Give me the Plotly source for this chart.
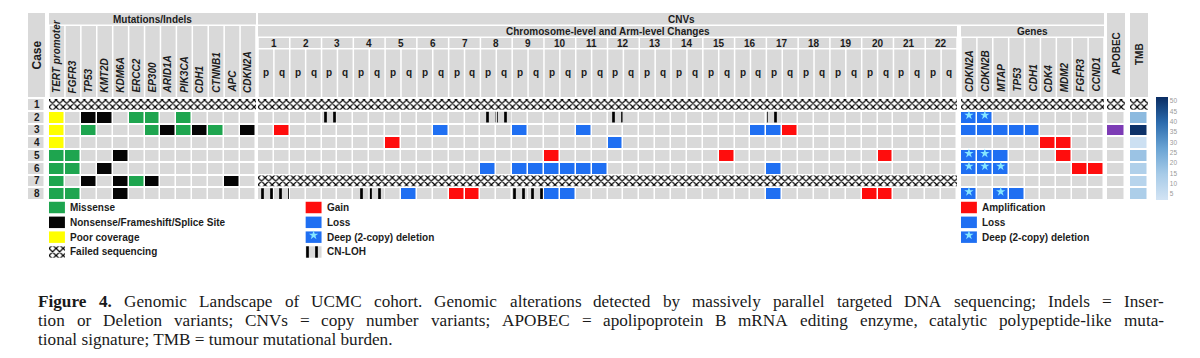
import plotly.graph_objects as go

W, H = 1200, 358

# ---------------- data ----------------
cases = [1, 2, 3, 4, 5, 6, 7, 8]
case_labels = ["1", "2", "3", "4", "5", "6", "7", "8"]

mut_genes = ["TERT promoter", "FGFR3", "TP53", "KMT2D", "KDM6A", "ERCC2", "EP300",
             "ARID1A", "PIK3CA", "CDH1", "CTNNB1", "APC", "CDKN2A"]
# M = missense, N = nonsense/frameshift/splice site, Y = poor coverage, F = failed, . = none
mut_calls = [
    "FFFFFFFFFFFFF",
    "Y.NN.MM.M....",
    "Y.M...MNMNM.N",
    "Y............",
    "MM..N........",
    "MM.N.........",
    "M.N.NMN....N.",
    "MM..N........",
]

chromosomes = [str(i) for i in range(1, 23)]
arm_names = ["p", "q"]
cnv_gain = [[], [], ["1q", "17q"], ["5p"], ["10p", "15q", "20q"], [], [],
            ["7p", "7q", "20p", "20q"]]
cnv_loss = [[], [], ["6q", "9p", "11p", "16q", "17p"], ["12p"], [],
            ["8p", "9p", "9q", "10p", "10q", "11p", "11q", "17p"], [],
            ["5q", "10p", "10q", "17p"]]
cnv_cnloh = [[], ["3p", "8p", "8q", "12p", "17p"], [], [], [], [], [],
             ["1p", "1q", "4p", "4q", "9p", "9q"]]
cnv_failed = [1, 7]

cn_genes = ["CDKN2A", "CDKN2B", "MTAP", "TP53", "CDH1", "CDK4", "MDM2", "FGFR3", "CCND1"]
# A = amplification, L = loss, D = deep (2-copy) deletion, F = failed
gene_calls = [
    "FFFFFFFFF",
    "DD.......",
    "LLLLL....",
    ".....AA..",
    "DDL...A..",
    "DDD....AA",
    ".........",
    "D.DL.....",
]

apobec_calls = ["F", ".", "+", ".", ".", ".", ".", "."]
tmb_values = [None, 20, 51, 4, 17, 12, 10, 13]
tmb_ticks = [5, 10, 15, 20, 25, 30, 35, 40, 45, 50]

mut_legend = ["Missense", "Nonsense/Frameshift/Splice Site", "Poor coverage", "Failed sequencing"]
cnv_legend = ["Gain", "Loss", "Deep (2-copy) deletion", "CN-LOH"]
gene_legend = ["Amplification", "Loss", "Deep (2-copy) deletion"]

caption_bold = "Figure 4."
caption_lines = [
    "Figure 4. Genomic Landscape of UCMC cohort. Genomic alterations detected by massively parallel targeted DNA sequencing; Indels = Inser-",
    "tion or Deletion variants; CNVs = copy number variants; APOBEC = apolipoprotein B mRNA editing enzyme, catalytic polypeptide-like muta-",
    "tional signature; TMB = tumour mutational burden.",
]

# ---------------- style ----------------
GREY = "#d9d9d9"
GREEN = "#1ea54f"
BLACK = "#050505"
YELLOW = "#ffff00"
RED = "#ff0d0d"
BLUE = "#1f6ff2"
PURPLE = "#7d3cb5"
STAR = "#86e6ff"
TXT = "#1c1c1c"
SANS = "Liberation Sans, Arial, sans-serif"
SERIF = "Liberation Serif, Times New Roman, serif"

OFF = 8            # page body margin of the rendered html
ROW_TOP, ROW_H = 98.0, 12.75


def yd(p):
    return 0.5 + (p - ROW_TOP) / ROW_H


def fx(p):
    return (p - OFF) / W


def fy(p):
    return 1 - (p - OFF) / H


sections = {
    "case": dict(x0=28, x1=45, n=1, ax="x"),
    "mut": dict(x0=49, x1=256, n=13, ax="x2"),
    "cnv": dict(x0=258, x1=957, n=44, ax="x3"),
    "gene": dict(x0=961, x1=1104, n=9, ax="x4"),
    "apo": dict(x0=1107, x1=1125, n=1, ax="x5"),
    "tmb": dict(x0=1130, x1=1148, n=1, ax="x6"),
}


def col_px(sec, c):
    s = sections[sec]
    pitch = (s["x1"] - s["x0"]) / s["n"]
    return s["x0"] + c * pitch, s["x0"] + (c + 1) * pitch


def discrete_scale(colors):
    k = len(colors)
    sc = []
    for i, c in enumerate(colors):
        sc.append([i / k, c])
        sc.append([(i + 1) / k, c])
    return sc


cnv_cols = [c + a for c in chromosomes for a in arm_names]

fig = go.Figure()
HM = dict(xgap=1.5, ygap=2, showscale=False, hoverinfo="skip", yaxis="y")

# ---- case column ----
fig.add_trace(go.Heatmap(z=[[0] for _ in cases], x=[0], y=cases, xaxis="x",
                         colorscale=[[0, GREY], [1, GREY]], zmin=0, zmax=1, **HM))

# ---- mutations ----
mcode = {".": 0, "M": 1, "N": 2, "Y": 3, "F": None}
z_mut = [[mcode[ch] for ch in row] for row in mut_calls]
fig.add_trace(go.Heatmap(z=z_mut, x=list(range(len(mut_genes))), y=cases, xaxis="x2",
                         colorscale=discrete_scale([GREY, GREEN, BLACK, YELLOW]),
                         zmin=-0.5, zmax=3.5, **HM))

# ---- CNV arms ----
z_cnv = []
for i, r in enumerate(cases):
    row = []
    for arm in cnv_cols:
        if r in cnv_failed:
            row.append(None)
        elif arm in cnv_gain[i]:
            row.append(1)
        elif arm in cnv_loss[i]:
            row.append(2)
        else:
            row.append(0)
    z_cnv.append(row)
fig.add_trace(go.Heatmap(z=z_cnv, x=list(range(len(cnv_cols))), y=cases, xaxis="x3",
                         colorscale=discrete_scale([GREY, RED, BLUE]),
                         zmin=-0.5, zmax=2.5, **HM))

# ---- CNV genes ----
gcode = {".": 0, "A": 1, "L": 2, "D": 2, "F": None}
z_gene = [[gcode[ch] for ch in row] for row in gene_calls]
fig.add_trace(go.Heatmap(z=z_gene, x=list(range(len(cn_genes))), y=cases, xaxis="x4",
                         colorscale=discrete_scale([GREY, RED, BLUE]),
                         zmin=-0.5, zmax=2.5, **HM))

# ---- APOBEC ----
acode = {".": 0, "+": 1, "F": None}
fig.add_trace(go.Heatmap(z=[[acode[a]] for a in apobec_calls], x=[0], y=cases, xaxis="x5",
                         colorscale=discrete_scale([GREY, PURPLE]), zmin=-0.5, zmax=1.5, **HM))

# ---- TMB ----
fig.add_trace(go.Heatmap(
    z=[[v] for v in tmb_values], x=[0], y=cases, xaxis="x6", yaxis="y",
    xgap=1.5, ygap=2, hoverinfo="skip", zmin=2, zmax=52,
    colorscale=[[0, "#d3e4f4"], [0.25, "#a7cbe8"], [0.5, "#6aa4d4"],
                [0.75, "#2c6cae"], [1, "#0a2d63"]],
    colorbar=dict(x=fx(1156), xanchor="left", y=fy(200), yanchor="bottom",
                  len=103 / H, lenmode="fraction", thickness=12, thicknessmode="pixels",
                  outlinewidth=0, tickvals=tmb_ticks, ticks="", xpad=0, ypad=0,
                  tickfont=dict(size=6.5, color="#9a9a9a", family=SANS)),
))

# ---------------- bars: failed sequencing (checker) and CN-LOH ----------------
CHECK = dict(shape="x", fgcolor="#000000", bgcolor="white", size=5, solidity=0.42,
             fgopacity=1)
BW = 0.84


def failed_bar(rows, sec):
    n = sections[sec]["n"]
    return go.Bar(orientation="h", y=rows, x=[n] * len(rows), base=[-0.5] * len(rows),
                  width=BW, marker=dict(color="white", line_width=0, pattern=CHECK),
                  xaxis=sections[sec]["ax"], yaxis="y", hoverinfo="skip", showlegend=False)


fig.add_trace(failed_bar([r for r, row in zip(cases, mut_calls) if row[0] == "F"], "mut"))
fig.add_trace(failed_bar(cnv_failed, "cnv"))
fig.add_trace(failed_bar([r for r, row in zip(cases, gene_calls) if row[0] == "F"], "gene"))
fig.add_trace(failed_bar([r for r, a in zip(cases, apobec_calls) if a == "F"], "apo"))
fig.add_trace(failed_bar([r for r, v in zip(cases, tmb_values) if v is None], "tmb"))

LOH = dict(shape="|", fgcolor="#000000", bgcolor=GREY, size=9, solidity=0.3, fgopacity=1)
loh_y, loh_base = [], []
for i, r in enumerate(cases):
    for arm in cnv_cnloh[i]:
        loh_y.append(r)
        loh_base.append(cnv_cols.index(arm) - 0.5 + 0.05)
fig.add_trace(go.Bar(orientation="h", y=loh_y, x=[0.9] * len(loh_y), base=loh_base, width=BW,
                     marker=dict(color=GREY, line_width=0, pattern=LOH),
                     xaxis="x3", yaxis="y", hoverinfo="skip", showlegend=False))

# ---------------- legends ----------------
leg_y = [yd(207.5 + 14.83 * i) for i in range(4)]
LW = 0.9


def legend_bar(sec, col, ys, colors, pattern=None):
    marker = dict(color=colors, line_width=0)
    if pattern:
        marker["pattern"] = pattern
    return go.Bar(orientation="h", y=ys, x=[1] * len(ys), base=[col - 0.5] * len(ys), width=LW,
                  marker=marker, xaxis=sections[sec]["ax"], yaxis="y",
                  hoverinfo="skip", showlegend=False)


fig.add_trace(legend_bar("mut", 0, leg_y[:3], [GREEN, BLACK, YELLOW]))
fig.add_trace(legend_bar("mut", 0, [leg_y[3]], "white", CHECK))
fig.add_trace(legend_bar("cnv", 3, leg_y[:3], [RED, BLUE, BLUE]))
fig.add_trace(legend_bar("cnv", 3, [leg_y[3]], GREY, LOH))
fig.add_trace(legend_bar("gene", 0, leg_y[:3], [RED, BLUE, BLUE]))

# ---------------- deep deletion stars ----------------
sx, sy = [], []
for i, r in enumerate(cases):
    for c, ch in enumerate(gene_calls[i]):
        if ch == "D":
            sx.append(c)
            sy.append(r - 0.15)
STAR_M = dict(symbol="star", size=7, color=STAR, line_width=0)
fig.add_trace(go.Scatter(x=sx, y=sy, mode="markers", marker=STAR_M, xaxis="x4", yaxis="y",
                         hoverinfo="skip", showlegend=False))
fig.add_trace(go.Scatter(x=[0], y=[leg_y[2] - 0.15], mode="markers", marker=STAR_M,
                         xaxis="x4", yaxis="y", hoverinfo="skip", showlegend=False))
fig.add_trace(go.Scatter(x=[3], y=[leg_y[2] - 0.15], mode="markers", marker=STAR_M,
                         xaxis="x3", yaxis="y", hoverinfo="skip", showlegend=False))

# ---------------- header boxes ----------------
shapes = []


def rect(x0, x1, y0, y1, color=GREY):
    shapes.append(dict(type="rect", xref="paper", yref="paper", x0=fx(x0), x1=fx(x1),
                       y0=fy(y1), y1=fy(y0), fillcolor=color, line=dict(width=0),
                       layer="below"))


G = 0.75
rect(28, 45, 13, 97)
rect(49, 256, 13, 24.5)
for c in range(len(mut_genes)):
    a, b = col_px("mut", c)
    rect(a + G, b - G, 26, 97)
rect(258, 1104, 13, 24.5)
rect(258, 957, 26, 36.5)
rect(961, 1104, 26, 36.5)
for k in range(len(chromosomes)):
    a, _ = col_px("cnv", 2 * k)
    _, b = col_px("cnv", 2 * k + 1)
    rect(a + G, b - G, 38, 48)
for c in range(len(cnv_cols)):
    a, b = col_px("cnv", c)
    rect(a + G, b - G, 49.5, 97)
for c in range(len(cn_genes)):
    a, b = col_px("gene", c)
    rect(a + G, b - G, 38, 97)
rect(1107, 1125, 13, 97)
rect(1130, 1148, 13, 97)

# ---------------- header texts ----------------
ann = []


def label(text, xpx, ypx, size=10, angle=0, xanchor="center", yanchor="middle", italic=False,
          color=TXT):
    t = f"<b>{text}</b>"
    if italic:
        t = f"<i>{t}</i>"
    ann.append(dict(text=t, x=fx(xpx), y=fy(ypx), xref="paper", yref="paper",
                    showarrow=False, textangle=angle, xanchor=xanchor, yanchor=yanchor,
                    font=dict(family=SANS, size=size, color=color)))


label("Case", 36.5, 55, size=12, angle=-90)
label("Mutations/Indels", 152.5, 19)
for c, g in enumerate(mut_genes):
    a, b = col_px("mut", c)
    label(g, (a + b) / 2, 95, angle=-90, yanchor="bottom", italic=True)
label("CNVs", 681, 19)
label("Chromosome-level and Arm-level Changes", 607.5, 31.5)
label("Genes", 1032.5, 31.5)
for k, ch in enumerate(chromosomes):
    a, _ = col_px("cnv", 2 * k)
    _, b = col_px("cnv", 2 * k + 1)
    label(ch, (a + b) / 2, 43.5)
for c, arm in enumerate(cnv_cols):
    a, b = col_px("cnv", c)
    label(arm[-1], (a + b) / 2, 72)
for c, g in enumerate(cn_genes):
    a, b = col_px("gene", c)
    label(g, (a + b) / 2, 94, angle=-90, yanchor="bottom", italic=True)
label("APOBEC", 1116, 54, angle=-90)
label("TMB", 1139, 54, angle=-90)

# case numbers
for r, cl in zip(cases, case_labels):
    ann.append(dict(text=f"<b>{cl}</b>", x=0, y=r, xref="x", yref="y", showarrow=False,
                    font=dict(family=SANS, size=10, color=TXT)))


# legend texts
def legend_text(sec, col, labels):
    for i, t in enumerate(labels):
        ann.append(dict(text=f"<b>{t}</b>", x=col + 0.5, y=leg_y[i],
                        xref=sections[sec]["ax"], yref="y", xanchor="left", xshift=3,
                        showarrow=False, font=dict(family=SANS, size=10, color=TXT)))


legend_text("mut", 0, mut_legend)
legend_text("cnv", 3, cnv_legend)
legend_text("gene", 0, gene_legend)

# ---------------- caption (justified like the journal layout) ----------------
TIMES = {" ": 250, "!": 333, "(": 333, ")": 333, ",": 250, "-": 333, ".": 250, "/": 278,
         ":": 278, ";": 278, "=": 564, "0": 500, "1": 500, "2": 500, "3": 500, "4": 500,
         "5": 500, "6": 500, "7": 500, "8": 500, "9": 500,
         "A": 722, "B": 667, "C": 667, "D": 722, "E": 611, "F": 556, "G": 722, "H": 722,
         "I": 333, "J": 389, "K": 722, "L": 611, "M": 889, "N": 722, "O": 722, "P": 556,
         "Q": 722, "R": 667, "S": 556, "T": 611, "U": 722, "V": 722, "W": 944, "X": 722,
         "Y": 722, "Z": 611,
         "a": 444, "b": 500, "c": 444, "d": 500, "e": 444, "f": 333, "g": 500, "h": 500,
         "i": 278, "j": 278, "k": 500, "l": 278, "m": 778, "n": 500, "o": 500, "p": 500,
         "q": 500, "r": 333, "s": 389, "t": 278, "u": 500, "v": 500, "w": 722, "x": 500,
         "y": 500, "z": 444}
TIMES_BOLD = {"F": 611, "i": 278, "g": 500, "u": 556, "r": 444, "e": 444, "4": 500, ".": 250}
CAP_FS = 17.2
CAP_X0, CAP_X1 = 37, 1163
CAP_Y = [301.5, 320.5, 339.5]
bold_words = caption_bold.split()


def word_w(word, bold):
    table = TIMES_BOLD if bold else TIMES
    return sum(table.get(ch, TIMES.get(ch, 500)) for ch in word) / 1000 * CAP_FS


def cap_word(text, xpx, ypx, bold):
    t = f"<b>{text}</b>" if bold else text
    ann.append(dict(text=t, x=fx(xpx), y=fy(ypx), xref="paper", yref="paper",
                    xanchor="left", yanchor="middle", showarrow=False, borderpad=0,
                    font=dict(family=SERIF, size=CAP_FS, color="#1a1a1a")))


for li, line in enumerate(caption_lines):
    words = line.split(" ")
    if li == len(caption_lines) - 1:
        cap_word(line, CAP_X0, CAP_Y[li], False)
        continue
    flags = [(li == 0 and wi < len(bold_words)) for wi in range(len(words))]
    widths = [word_w(w, b) for w, b in zip(words, flags)]
    gap = (CAP_X1 - CAP_X0 - sum(widths)) / (len(words) - 1)
    x = CAP_X0
    for w, b, ww in zip(words, flags, widths):
        cap_word(w, x, CAP_Y[li], b)
        x += ww + gap

# ---------------- layout ----------------
layout = dict(
    width=W, height=H, margin=dict(l=0, r=0, t=0, b=0),
    paper_bgcolor="white", plot_bgcolor="rgba(0,0,0,0)",
    barmode="overlay", showlegend=False, shapes=shapes, annotations=ann,
    yaxis=dict(domain=[0, 1], range=[yd(H + OFF), yd(OFF)], visible=False, anchor="x",
               fixedrange=True),
)
for key, s in sections.items():
    name = "xaxis" if s["ax"] == "x" else "xaxis" + s["ax"][1:]
    layout[name] = dict(domain=[fx(s["x0"]), fx(s["x1"])], range=[-0.5, s["n"] - 0.5],
                        visible=False, anchor="y", fixedrange=True)
fig.update_layout(**layout)

fig.write_html("out.html")
